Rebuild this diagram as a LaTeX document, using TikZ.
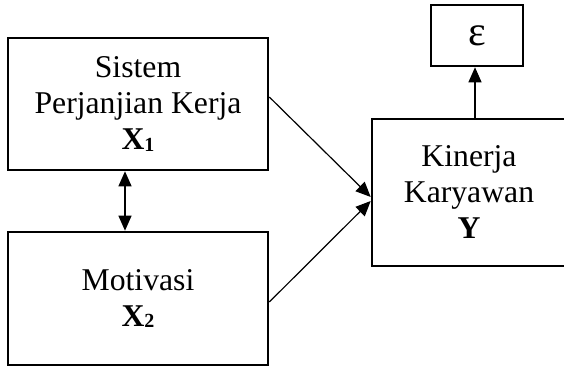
\documentclass[tikz,border=0pt]{standalone}
\usepackage{fontspec}
\setmainfont{Liberation Serif}
\usetikzlibrary{arrows.meta}
\newcommand{\subbf}[1]{\raisebox{-1.5pt}{\fontsize{20}{20}\selectfont\bfseries #1}}
\begin{document}
\begin{tikzpicture}[x={(1pt,0)},y={(0,-1pt)},
  box/.style={draw,line width=2.6pt,rectangle,align=center,inner sep=0pt,
    font=\fontsize{31.7}{36}\selectfont},
  link/.style={line width=1.2pt,-{Triangle[length=15pt,width=13pt]}},
  dlink/.style={line width=1.2pt,{Triangle[length=15pt,width=13pt]}-{Triangle[length=15pt,width=13pt]}}]
\useasboundingbox (0,0) rectangle (564,371);
\node[box,minimum width=260pt,minimum height=132pt] (b1) at (138,104) {Sistem\\Perjanjian Kerja\\\textbf{X}\subbf{1}};
\node[box,minimum width=260pt,minimum height=133pt] (b2) at (138,298.5) {Motivasi\\\textbf{X}\subbf{2}};
\node[box,minimum width=194pt,minimum height=147pt] (y) at (469,192.5) {Kinerja\\Karyawan\\\textbf{Y}};
\node[box,minimum width=92pt,minimum height=61pt,font=\fontsize{42}{42}\selectfont] (eps) at (477,35.5) {ε};
\draw[link] ([yshift=7pt]b1.east) -- ([yshift=-4.5pt]y.west);
\draw[link] ([yshift=-3.5pt]b2.east) -- ([yshift=-8.5pt]y.west);
\draw[dlink] ([xshift=-13pt]b1.south) -- ([xshift=-13pt]b2.north);
\draw[link] ([xshift=6pt]y.north) -- ([xshift=6pt]y.north |- eps.south);
\end{tikzpicture}
\end{document}
